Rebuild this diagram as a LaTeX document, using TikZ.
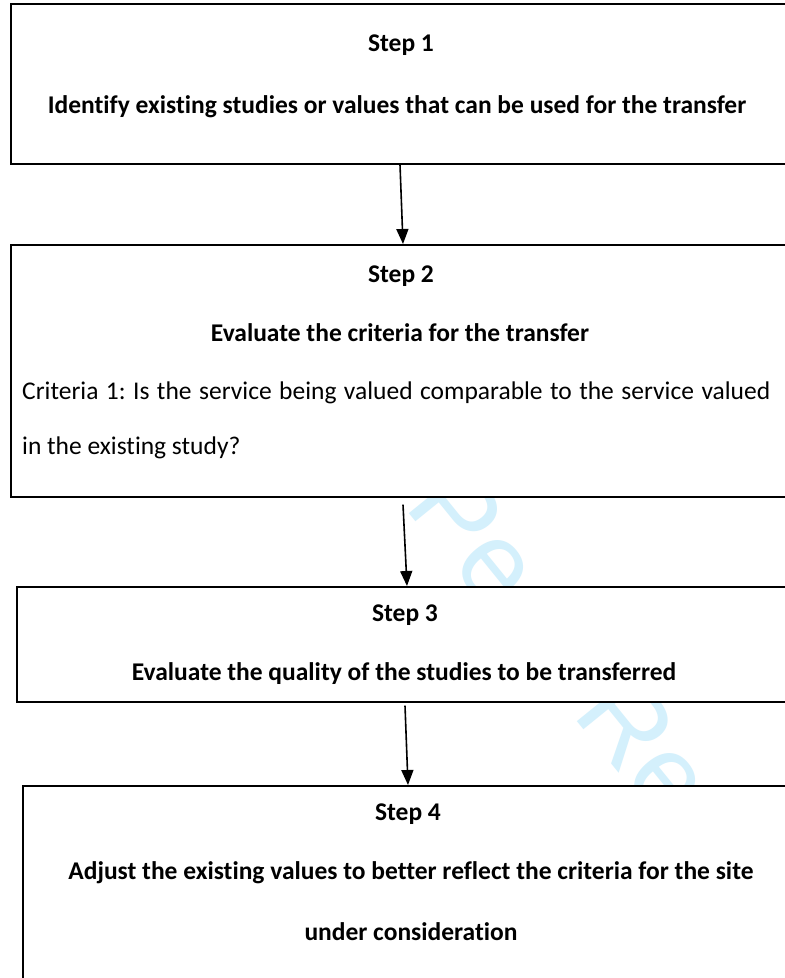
\documentclass[tikz,border=0pt]{standalone}
\usepackage{fontspec}
\setmainfont[Ligatures=NoCommon]{Carlito}
\newfontfamily\wmfont{Liberation Sans}
\usetikzlibrary{arrows.meta}
\definecolor{wmcyan}{RGB}{212,240,252}
\frenchspacing
\begin{document}
\begin{tikzpicture}[x=1pt,y=-1pt,
  box/.style={draw=black, line width=1.6pt, fill=white, rectangle, inner sep=0pt, anchor=north west},
  ttl/.style={font=\fontsize{25.5}{30}\selectfont\bfseries, anchor=base, inner sep=0pt},
  body/.style={font=\fontsize{25.5}{30}\selectfont, anchor=base west, inner sep=0pt},
  flow/.style={line width=1.6pt, -{Triangle[length=15pt,width=12pt]}}]
\useasboundingbox (0,0) rectangle (785,978);
\clip (0,0) rectangle (785,978);
\fill[white] (0,0) rectangle (785,978);
\node[font=\wmfont\fontsize{112}{112}\selectfont, text=wmcyan, rotate=-51, anchor=base west, inner sep=0pt] (wm) at (278,352) {For Peer Review};
\node[box, minimum width=790pt, minimum height=160pt] (b1) at (10,3) {};
\node[box, minimum width=790pt, minimum height=252pt] (b2) at (10,244) {};
\node[box, minimum width=784pt, minimum height=115pt] (b3) at (16,586) {};
\node[box, minimum width=778pt, minimum height=220pt] (b4) at (22,785) {};
\node[ttl] (s1) at (401,51) {Step 1};
\node[ttl] (t1) at (397,113) {Identify existing studies or values that can be used for the transfer};
\node[ttl] (s2) at (401,282) {Step 2};
\node[ttl] (t2) at (400,341) {Evaluate the criteria for the transfer};
\node[body] (c1) at (22,399) {\makebox[748pt][s]{Criteria 1: Is the service being valued comparable to the service valued}};
\node[body] (c2) at (22,454) {in the existing study?};
\node[ttl] (s3) at (405,621) {Step 3};
\node[ttl] (t3) at (404,680) {Evaluate the quality of the studies to be transferred};
\node[ttl] (s4) at (408,820) {Step 4};
\node[ttl] (t4) at (411,879) {Adjust the existing values to better reflect the criteria for the site};
\node[ttl] (t5) at (411,940) {under consideration};
\draw[flow] ([xshift=390pt]b1.south west) -- ([xshift=393pt]b2.north west);
\draw[flow] ([xshift=393pt,yshift=-7pt]b2.south west) -- ([xshift=391pt]b3.north west);
\draw[flow] ([xshift=389pt,yshift=-3pt]b3.south west) -- ([xshift=386pt]b4.north west);
\end{tikzpicture}
\end{document}
